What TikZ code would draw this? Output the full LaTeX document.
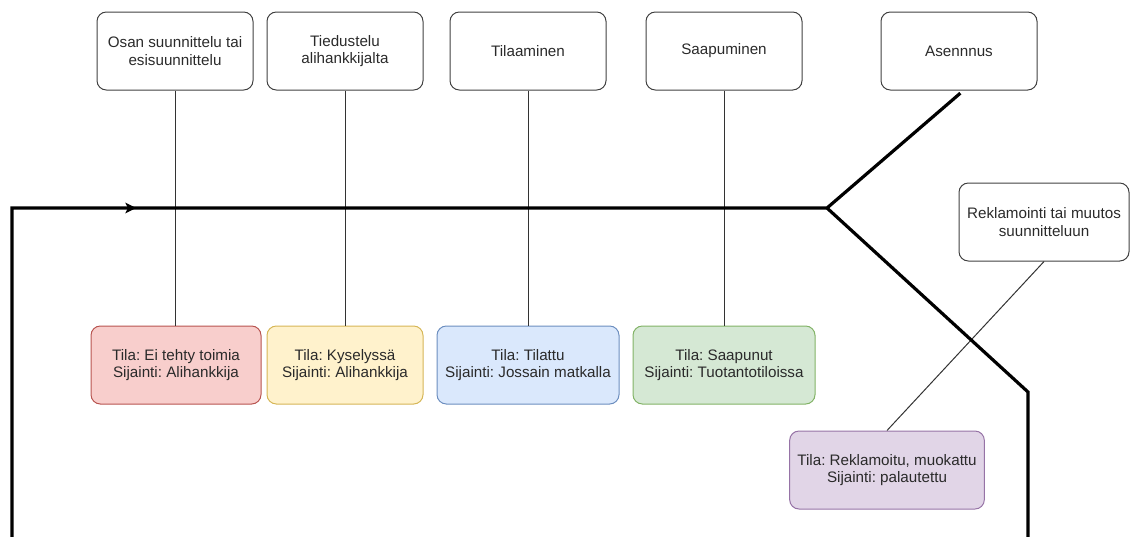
\documentclass[tikz,border=0pt]{standalone}
\usepackage{fontspec}
\setmainfont{Liberation Sans}
\usepackage{tikz}
\usetikzlibrary{positioning, arrows.meta}

\definecolor{tekstic}{HTML}{2A2A2A}
\definecolor{punainenT}{HTML}{F8CECC}
\definecolor{punainenR}{HTML}{B85450}
\definecolor{keltainenT}{HTML}{FFF2CC}
\definecolor{keltainenR}{HTML}{D6B656}
\definecolor{sininenT}{HTML}{DAE8FC}
\definecolor{sininenR}{HTML}{6C8EBF}
\definecolor{vihreaT}{HTML}{D5E8D4}
\definecolor{vihreaR}{HTML}{82B366}
\definecolor{violettiT}{HTML}{E1D5E7}
\definecolor{violettiR}{HTML}{9673A6}
\tikzset{
    vaihe/.style={draw=black!75, rounded corners=7pt, line width=0.75pt, align=center,
        minimum height=58.5pt, inner sep=2pt, text=tekstic,
        font=\fontsize{11.4}{13.2}\selectfont\frenchspacing},
    tila/.style={vaihe, line width=0.75pt},
    ohut/.style={line width=0.75pt, black!80},
    paksu/.style={line width=2.4pt, line join=miter}
}

\begin{document}
\begin{tikzpicture}[x=0.75pt, y=-0.75pt]
            \useasboundingbox (0, 0) rectangle (1130, 536);

            \node [vaihe, minimum width=117pt] (osan) at (175, 51) {Osan suunnittelu tai\\esisuunnittelu};
            \node [vaihe, minimum width=117pt] (tiedustelu) at (345, 51) {Tiedustelu\\alihankkijalta};
            \node [vaihe, minimum width=117pt] (tilaaminen) at (528, 51) {Tilaaminen};
            \node [vaihe, minimum width=117pt] (saapuminen) at (724, 51) {Saapuminen};
            \node [vaihe, minimum width=117pt] (asennus) at (959, 51) {Asennnus};
            \node [vaihe, minimum width=127.5pt] (reklamointi) at (1044, 222) {Reklamointi tai muutos\\suunnitteluun};

            \node [tila, fill=punainenT, draw=punainenR, minimum width=127.5pt] (eitehty) at (176, 365) {Tila: Ei tehty toimia\\Sijainti: Alihankkija};
            \node [tila, fill=keltainenT, draw=keltainenR, minimum width=117pt] (kyselyssa) at (345, 365) {Tila: Kyselyssä\\Sijainti: Alihankkija};
            \node [tila, fill=sininenT, draw=sininenR, minimum width=136.5pt] (tilattu) at (528, 365) {Tila: Tilattu\\Sijainti: Jossain matkalla};
            \node [tila, fill=vihreaT, draw=vihreaR, minimum width=136.5pt] (saapunut) at (724, 365) {Tila: Saapunut\\Sijainti: Tuotantotiloissa};
            \node [tila, fill=violettiT, draw=violettiR, minimum width=146pt] (reklamoitu) at (887, 470) {Tila: Reklamoitu, muokattu\\Sijainti: palautettu};

            \draw [ohut] (osan) -- (osan |- eitehty.north);
            \draw [ohut] (tiedustelu) -- (kyselyssa);
            \draw [ohut] (tilaaminen) -- (tilattu);
            \draw [ohut] (saapuminen) -- (saapunut);
            \draw [ohut] (reklamointi.south) -- (reklamoitu.north);

            % paksu aikajana
            \coordinate (alku) at (12, 540);
            \coordinate (karki) at (136, 208);
            \coordinate (haara) at (827, 208);
            \coordinate (taite) at (1028, 392);
            \coordinate (loppu) at (1028, 540);

            \draw [paksu] (alku) |- (haara) -- ([xshift=1pt, yshift=-2pt]asennus.south);
            \draw [line width=1pt, -{Stealth[length=8pt, width=8pt, inset=2pt]}] ([xshift=-12pt]karki) -- (karki);
            \draw [paksu] (haara) -- (taite) -- (loppu);
        \end{tikzpicture}
\end{document}
